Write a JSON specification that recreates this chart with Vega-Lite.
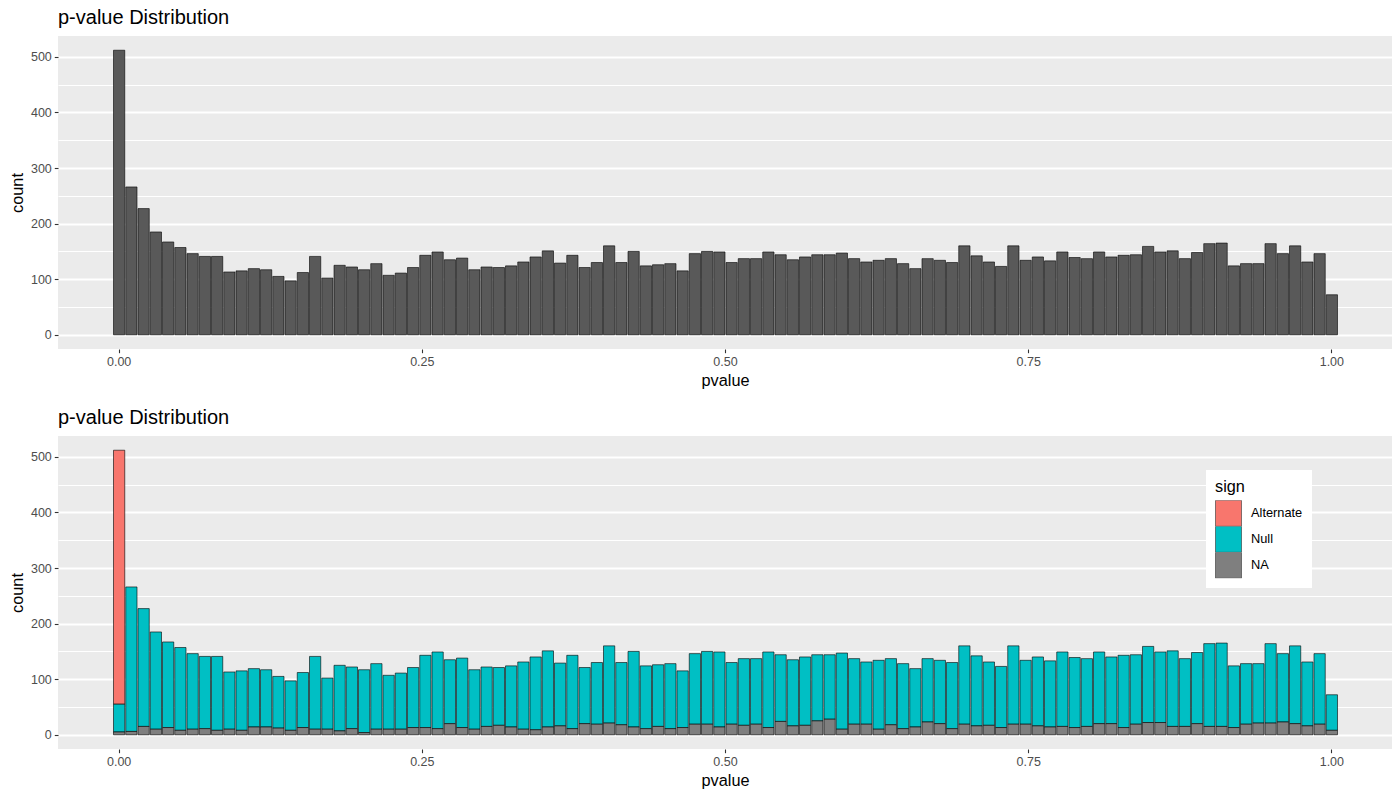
{
"$schema": "https://vega.github.io/schema/vega-lite/v6.json",
"background": "white",
"padding": {"left": 9, "top": 8, "right": 5, "bottom": 5},
"spacing": 19,
"config": {
  "font": "Liberation Sans",
  "view": {"fill": "#EBEBEB", "stroke": null},
  "title": {"anchor": "start", "frame": "group", "fontSize": 20, "fontWeight": "normal", "color": "black", "offset": 8, "font": "Liberation Sans"},
  "axis": {"domain": false, "gridColor": "white", "tickColor": "#333333", "tickSize": 3.7, "tickWidth": 1.1, "labelFontSize": 12.5, "labelColor": "#4D4D4D", "labelPadding": 3, "titleFontSize": 16.3, "titleFontWeight": "normal", "titleColor": "black", "labelFont": "Liberation Sans", "titleFont": "Liberation Sans", "labelOverlap": false, "labelFlush": false}
},
"datasets": {"counts": [
{"lo":-0.00505,"hi":0.00505,"sign":"Alternate","n":457},
{"lo":-0.00505,"hi":0.00505,"sign":"Null","n":50},
{"lo":-0.00505,"hi":0.00505,"sign":"NA","n":5},
{"lo":0.00505,"hi":0.015152,"sign":"Null","n":260},{"lo":0.00505,"hi":0.015152,"sign":"NA","n":6},
{"lo":0.015152,"hi":0.025253,"sign":"Null","n":212},{"lo":0.015152,"hi":0.025253,"sign":"NA","n":15},
{"lo":0.025253,"hi":0.035354,"sign":"Null","n":175},{"lo":0.025253,"hi":0.035354,"sign":"NA","n":10},
{"lo":0.035354,"hi":0.045455,"sign":"Null","n":154},{"lo":0.035354,"hi":0.045455,"sign":"NA","n":13},
{"lo":0.045455,"hi":0.055556,"sign":"Null","n":149},{"lo":0.045455,"hi":0.055556,"sign":"NA","n":8},
{"lo":0.055556,"hi":0.065657,"sign":"Null","n":136},{"lo":0.055556,"hi":0.065657,"sign":"NA","n":10},
{"lo":0.065657,"hi":0.075758,"sign":"Null","n":130},{"lo":0.065657,"hi":0.075758,"sign":"NA","n":11},
{"lo":0.075758,"hi":0.085859,"sign":"Null","n":133},{"lo":0.075758,"hi":0.085859,"sign":"NA","n":8},
{"lo":0.085859,"hi":0.09596,"sign":"Null","n":103},{"lo":0.085859,"hi":0.09596,"sign":"NA","n":10},
{"lo":0.09596,"hi":0.106061,"sign":"Null","n":107},{"lo":0.09596,"hi":0.106061,"sign":"NA","n":8},
{"lo":0.106061,"hi":0.116162,"sign":"Null","n":105},{"lo":0.106061,"hi":0.116162,"sign":"NA","n":14},
{"lo":0.116162,"hi":0.126263,"sign":"Null","n":103},{"lo":0.116162,"hi":0.126263,"sign":"NA","n":14},
{"lo":0.126263,"hi":0.136364,"sign":"Null","n":93},{"lo":0.126263,"hi":0.136364,"sign":"NA","n":12},
{"lo":0.136364,"hi":0.146465,"sign":"Null","n":89},{"lo":0.136364,"hi":0.146465,"sign":"NA","n":8},
{"lo":0.146465,"hi":0.156566,"sign":"Null","n":99},{"lo":0.146465,"hi":0.156566,"sign":"NA","n":13},
{"lo":0.156566,"hi":0.166667,"sign":"Null","n":131},{"lo":0.156566,"hi":0.166667,"sign":"NA","n":10},
{"lo":0.166667,"hi":0.176768,"sign":"Null","n":92},{"lo":0.166667,"hi":0.176768,"sign":"NA","n":10},
{"lo":0.176768,"hi":0.186869,"sign":"Null","n":118},{"lo":0.176768,"hi":0.186869,"sign":"NA","n":7},
{"lo":0.186869,"hi":0.19697,"sign":"Null","n":111},{"lo":0.186869,"hi":0.19697,"sign":"NA","n":11},
{"lo":0.19697,"hi":0.207071,"sign":"Null","n":113},{"lo":0.19697,"hi":0.207071,"sign":"NA","n":4},
{"lo":0.207071,"hi":0.217172,"sign":"Null","n":118},{"lo":0.207071,"hi":0.217172,"sign":"NA","n":10},
{"lo":0.217172,"hi":0.227273,"sign":"Null","n":97},{"lo":0.217172,"hi":0.227273,"sign":"NA","n":10},
{"lo":0.227273,"hi":0.237374,"sign":"Null","n":101},{"lo":0.227273,"hi":0.237374,"sign":"NA","n":10},
{"lo":0.237374,"hi":0.247475,"sign":"Null","n":108},{"lo":0.237374,"hi":0.247475,"sign":"NA","n":13},
{"lo":0.247475,"hi":0.257576,"sign":"Null","n":130},{"lo":0.247475,"hi":0.257576,"sign":"NA","n":13},
{"lo":0.257576,"hi":0.267677,"sign":"Null","n":138},{"lo":0.257576,"hi":0.267677,"sign":"NA","n":11},
{"lo":0.267677,"hi":0.277778,"sign":"Null","n":115},{"lo":0.267677,"hi":0.277778,"sign":"NA","n":20},
{"lo":0.277778,"hi":0.287879,"sign":"Null","n":125},{"lo":0.277778,"hi":0.287879,"sign":"NA","n":13},
{"lo":0.287879,"hi":0.29798,"sign":"Null","n":107},{"lo":0.287879,"hi":0.29798,"sign":"NA","n":10},
{"lo":0.29798,"hi":0.308081,"sign":"Null","n":107},{"lo":0.29798,"hi":0.308081,"sign":"NA","n":15},
{"lo":0.308081,"hi":0.318182,"sign":"Null","n":104},{"lo":0.308081,"hi":0.318182,"sign":"NA","n":17},
{"lo":0.318182,"hi":0.328283,"sign":"Null","n":110},{"lo":0.318182,"hi":0.328283,"sign":"NA","n":14},
{"lo":0.328283,"hi":0.338384,"sign":"Null","n":121},{"lo":0.328283,"hi":0.338384,"sign":"NA","n":10},
{"lo":0.338384,"hi":0.348485,"sign":"Null","n":131},{"lo":0.338384,"hi":0.348485,"sign":"NA","n":9},
{"lo":0.348485,"hi":0.358586,"sign":"Null","n":137},{"lo":0.348485,"hi":0.358586,"sign":"NA","n":14},
{"lo":0.358586,"hi":0.368687,"sign":"Null","n":113},{"lo":0.358586,"hi":0.368687,"sign":"NA","n":16},
{"lo":0.368687,"hi":0.378788,"sign":"Null","n":132},{"lo":0.368687,"hi":0.378788,"sign":"NA","n":11},
{"lo":0.378788,"hi":0.388889,"sign":"Null","n":101},{"lo":0.378788,"hi":0.388889,"sign":"NA","n":20},
{"lo":0.388889,"hi":0.39899,"sign":"Null","n":111},{"lo":0.388889,"hi":0.39899,"sign":"NA","n":19},
{"lo":0.39899,"hi":0.409091,"sign":"Null","n":139},{"lo":0.39899,"hi":0.409091,"sign":"NA","n":21},
{"lo":0.409091,"hi":0.419192,"sign":"Null","n":112},{"lo":0.409091,"hi":0.419192,"sign":"NA","n":18},
{"lo":0.419192,"hi":0.429293,"sign":"Null","n":136},{"lo":0.419192,"hi":0.429293,"sign":"NA","n":14},
{"lo":0.429293,"hi":0.439394,"sign":"Null","n":113},{"lo":0.429293,"hi":0.439394,"sign":"NA","n":11},
{"lo":0.439394,"hi":0.449495,"sign":"Null","n":111},{"lo":0.439394,"hi":0.449495,"sign":"NA","n":15},
{"lo":0.449495,"hi":0.459596,"sign":"Null","n":117},{"lo":0.449495,"hi":0.459596,"sign":"NA","n":11},
{"lo":0.459596,"hi":0.469697,"sign":"Null","n":102},{"lo":0.459596,"hi":0.469697,"sign":"NA","n":13},
{"lo":0.469697,"hi":0.479798,"sign":"Null","n":127},{"lo":0.469697,"hi":0.479798,"sign":"NA","n":19},
{"lo":0.479798,"hi":0.489899,"sign":"Null","n":131},{"lo":0.479798,"hi":0.489899,"sign":"NA","n":19},
{"lo":0.489899,"hi":0.5,"sign":"Null","n":135},{"lo":0.489899,"hi":0.5,"sign":"NA","n":14},
{"lo":0.5,"hi":0.510101,"sign":"Null","n":111},{"lo":0.5,"hi":0.510101,"sign":"NA","n":19},
{"lo":0.510101,"hi":0.520202,"sign":"Null","n":120},{"lo":0.510101,"hi":0.520202,"sign":"NA","n":17},
{"lo":0.520202,"hi":0.530303,"sign":"Null","n":118},{"lo":0.520202,"hi":0.530303,"sign":"NA","n":19},
{"lo":0.530303,"hi":0.540404,"sign":"Null","n":136},{"lo":0.530303,"hi":0.540404,"sign":"NA","n":13},
{"lo":0.540404,"hi":0.550505,"sign":"Null","n":120},{"lo":0.540404,"hi":0.550505,"sign":"NA","n":24},
{"lo":0.550505,"hi":0.560606,"sign":"Null","n":119},{"lo":0.550505,"hi":0.560606,"sign":"NA","n":16},
{"lo":0.560606,"hi":0.570707,"sign":"Null","n":123},{"lo":0.560606,"hi":0.570707,"sign":"NA","n":17},
{"lo":0.570707,"hi":0.580808,"sign":"Null","n":119},{"lo":0.570707,"hi":0.580808,"sign":"NA","n":25},
{"lo":0.580808,"hi":0.590909,"sign":"Null","n":116},{"lo":0.580808,"hi":0.590909,"sign":"NA","n":28},
{"lo":0.590909,"hi":0.60101,"sign":"Null","n":137},{"lo":0.590909,"hi":0.60101,"sign":"NA","n":10},
{"lo":0.60101,"hi":0.611111,"sign":"Null","n":118},{"lo":0.60101,"hi":0.611111,"sign":"NA","n":19},
{"lo":0.611111,"hi":0.621212,"sign":"Null","n":112},{"lo":0.611111,"hi":0.621212,"sign":"NA","n":19},
{"lo":0.621212,"hi":0.631313,"sign":"Null","n":124},{"lo":0.621212,"hi":0.631313,"sign":"NA","n":10},
{"lo":0.631313,"hi":0.641414,"sign":"Null","n":119},{"lo":0.631313,"hi":0.641414,"sign":"NA","n":18},
{"lo":0.641414,"hi":0.651515,"sign":"Null","n":117},{"lo":0.641414,"hi":0.651515,"sign":"NA","n":11},
{"lo":0.651515,"hi":0.661616,"sign":"Null","n":105},{"lo":0.651515,"hi":0.661616,"sign":"NA","n":14},
{"lo":0.661616,"hi":0.671717,"sign":"Null","n":114},{"lo":0.661616,"hi":0.671717,"sign":"NA","n":23},
{"lo":0.671717,"hi":0.681818,"sign":"Null","n":114},{"lo":0.671717,"hi":0.681818,"sign":"NA","n":20},
{"lo":0.681818,"hi":0.691919,"sign":"Null","n":119},{"lo":0.681818,"hi":0.691919,"sign":"NA","n":11},
{"lo":0.691919,"hi":0.70202,"sign":"Null","n":141},{"lo":0.691919,"hi":0.70202,"sign":"NA","n":19},
{"lo":0.70202,"hi":0.712121,"sign":"Null","n":126},{"lo":0.70202,"hi":0.712121,"sign":"NA","n":16},
{"lo":0.712121,"hi":0.722222,"sign":"Null","n":114},{"lo":0.712121,"hi":0.722222,"sign":"NA","n":17},
{"lo":0.722222,"hi":0.732323,"sign":"Null","n":110},{"lo":0.722222,"hi":0.732323,"sign":"NA","n":13},
{"lo":0.732323,"hi":0.742424,"sign":"Null","n":141},{"lo":0.732323,"hi":0.742424,"sign":"NA","n":19},
{"lo":0.742424,"hi":0.752525,"sign":"Null","n":115},{"lo":0.742424,"hi":0.752525,"sign":"NA","n":19},
{"lo":0.752525,"hi":0.762626,"sign":"Null","n":124},{"lo":0.752525,"hi":0.762626,"sign":"NA","n":16},
{"lo":0.762626,"hi":0.772727,"sign":"Null","n":119},{"lo":0.762626,"hi":0.772727,"sign":"NA","n":14},
{"lo":0.772727,"hi":0.782828,"sign":"Null","n":134},{"lo":0.772727,"hi":0.782828,"sign":"NA","n":15},
{"lo":0.782828,"hi":0.792929,"sign":"Null","n":126},{"lo":0.782828,"hi":0.792929,"sign":"NA","n":13},
{"lo":0.792929,"hi":0.80303,"sign":"Null","n":122},{"lo":0.792929,"hi":0.80303,"sign":"NA","n":15},
{"lo":0.80303,"hi":0.813131,"sign":"Null","n":129},{"lo":0.80303,"hi":0.813131,"sign":"NA","n":20},
{"lo":0.813131,"hi":0.823232,"sign":"Null","n":120},{"lo":0.813131,"hi":0.823232,"sign":"NA","n":20},
{"lo":0.823232,"hi":0.833333,"sign":"Null","n":130},{"lo":0.823232,"hi":0.833333,"sign":"NA","n":13},
{"lo":0.833333,"hi":0.843434,"sign":"Null","n":125},{"lo":0.833333,"hi":0.843434,"sign":"NA","n":19},
{"lo":0.843434,"hi":0.853535,"sign":"Null","n":137},{"lo":0.843434,"hi":0.853535,"sign":"NA","n":22},
{"lo":0.853535,"hi":0.863636,"sign":"Null","n":127},{"lo":0.853535,"hi":0.863636,"sign":"NA","n":22},
{"lo":0.863636,"hi":0.873737,"sign":"Null","n":136},{"lo":0.863636,"hi":0.873737,"sign":"NA","n":15},
{"lo":0.873737,"hi":0.883838,"sign":"Null","n":122},{"lo":0.873737,"hi":0.883838,"sign":"NA","n":15},
{"lo":0.883838,"hi":0.893939,"sign":"Null","n":128},{"lo":0.883838,"hi":0.893939,"sign":"NA","n":20},
{"lo":0.893939,"hi":0.90404,"sign":"Null","n":149},{"lo":0.893939,"hi":0.90404,"sign":"NA","n":15},
{"lo":0.90404,"hi":0.914141,"sign":"Null","n":150},{"lo":0.90404,"hi":0.914141,"sign":"NA","n":15},
{"lo":0.914141,"hi":0.924242,"sign":"Null","n":111},{"lo":0.914141,"hi":0.924242,"sign":"NA","n":13},
{"lo":0.924242,"hi":0.934343,"sign":"Null","n":109},{"lo":0.924242,"hi":0.934343,"sign":"NA","n":19},
{"lo":0.934343,"hi":0.944444,"sign":"Null","n":107},{"lo":0.934343,"hi":0.944444,"sign":"NA","n":21},
{"lo":0.944444,"hi":0.954545,"sign":"Null","n":143},{"lo":0.944444,"hi":0.954545,"sign":"NA","n":21},
{"lo":0.954545,"hi":0.964646,"sign":"Null","n":123},{"lo":0.954545,"hi":0.964646,"sign":"NA","n":23},
{"lo":0.964646,"hi":0.974747,"sign":"Null","n":140},{"lo":0.964646,"hi":0.974747,"sign":"NA","n":20},
{"lo":0.974747,"hi":0.984848,"sign":"Null","n":115},{"lo":0.974747,"hi":0.984848,"sign":"NA","n":16},
{"lo":0.984848,"hi":0.994949,"sign":"Null","n":127},{"lo":0.984848,"hi":0.994949,"sign":"NA","n":19},
{"lo":0.994949,"hi":1.005051,"sign":"Null","n":64},{"lo":0.994949,"hi":1.005051,"sign":"NA","n":8}
]},
"vconcat": [
{
  "title": "p-value Distribution",
  "width": 1334, "height": 313,
  "data": {"name": "counts"},
  "mark": {"type": "bar", "fill": "#595959", "stroke": "black", "strokeWidth": 0.6},
  "encoding": {
    "x": {"field": "lo", "type": "quantitative", "bin": "binned", "title": "pvalue",
      "scale": {"domain": [-0.05, 1.05], "nice": false, "zero": false},
      "axis": {"values": [0,0.125,0.25,0.375,0.5,0.625,0.75,0.875,1],
        "labelExpr": "(datum.value*8)%2==0 ? format(datum.value,'.2f') : ''",
        "gridWidth": {"condition": {"test": "(datum.value*8)%2==0", "value": 2.2}, "value": 1.1},
        "tickOpacity": {"condition": {"test": "(datum.value*8)%2==0", "value": 1}, "value": 0},
        "titlePadding": 4}},
    "x2": {"field": "hi"},
    "y": {"aggregate": "sum", "field": "n", "type": "quantitative", "title": "count",
      "scale": {"domain": [-25.6, 537.6], "nice": false, "zero": false},
      "axis": {"values": [0,50,100,150,200,250,300,350,400,450,500],
        "labelExpr": "datum.value%100==0 ? datum.label : ''",
        "gridWidth": {"condition": {"test": "datum.value%100==0", "value": 2.2}, "value": 1.1},
        "tickOpacity": {"condition": {"test": "datum.value%100==0", "value": 1}, "value": 0},
        "titlePadding": 5}}
  }
},
{
  "title": "p-value Distribution",
  "width": 1334, "height": 313,
  "data": {"name": "counts"},
  "transform": [{"calculate": "indexof(['NA','Null','Alternate'], datum.sign)", "as": "ord"}],
  "mark": {"type": "bar", "stroke": "black", "strokeWidth": 0.6},
  "encoding": {
    "x": {"field": "lo", "type": "quantitative", "bin": "binned", "title": "pvalue",
      "scale": {"domain": [-0.05, 1.05], "nice": false, "zero": false},
      "axis": {"values": [0,0.125,0.25,0.375,0.5,0.625,0.75,0.875,1],
        "labelExpr": "(datum.value*8)%2==0 ? format(datum.value,'.2f') : ''",
        "gridWidth": {"condition": {"test": "(datum.value*8)%2==0", "value": 2.2}, "value": 1.1},
        "tickOpacity": {"condition": {"test": "(datum.value*8)%2==0", "value": 1}, "value": 0},
        "titlePadding": 4}},
    "x2": {"field": "hi"},
    "y": {"field": "n", "type": "quantitative", "title": "count", "stack": "zero",
      "scale": {"domain": [-25.6, 537.6], "nice": false, "zero": false},
      "axis": {"values": [0,50,100,150,200,250,300,350,400,450,500],
        "labelExpr": "datum.value%100==0 ? datum.label : ''",
        "gridWidth": {"condition": {"test": "datum.value%100==0", "value": 2.2}, "value": 1.1},
        "tickOpacity": {"condition": {"test": "datum.value%100==0", "value": 1}, "value": 0},
        "titlePadding": 5}},
    "color": {"field": "sign", "type": "nominal",
      "scale": {"domain": ["Alternate", "Null", "NA"], "range": ["#F8766D", "#00BFC4", "#7F7F7F"]},
      "legend": {"orient": "none", "legendX": 1148, "legendY": 434, "fillColor": "white", "padding": 9,
        "title": "sign", "titleFontSize": 16.3, "titleFontWeight": "normal", "titleColor": "black", "titlePadding": 5,
        "symbolType": "square", "symbolSize": 676, "symbolStrokeColor": "#333333", "symbolStrokeWidth": 0.6, "symbolOpacity": 1,
        "labelFontSize": 12.8, "labelColor": "black", "labelOffset": 9, "rowPadding": 0, "clipHeight": 26}},
    "order": {"field": "ord", "type": "quantitative"}
  }
}
]
}
